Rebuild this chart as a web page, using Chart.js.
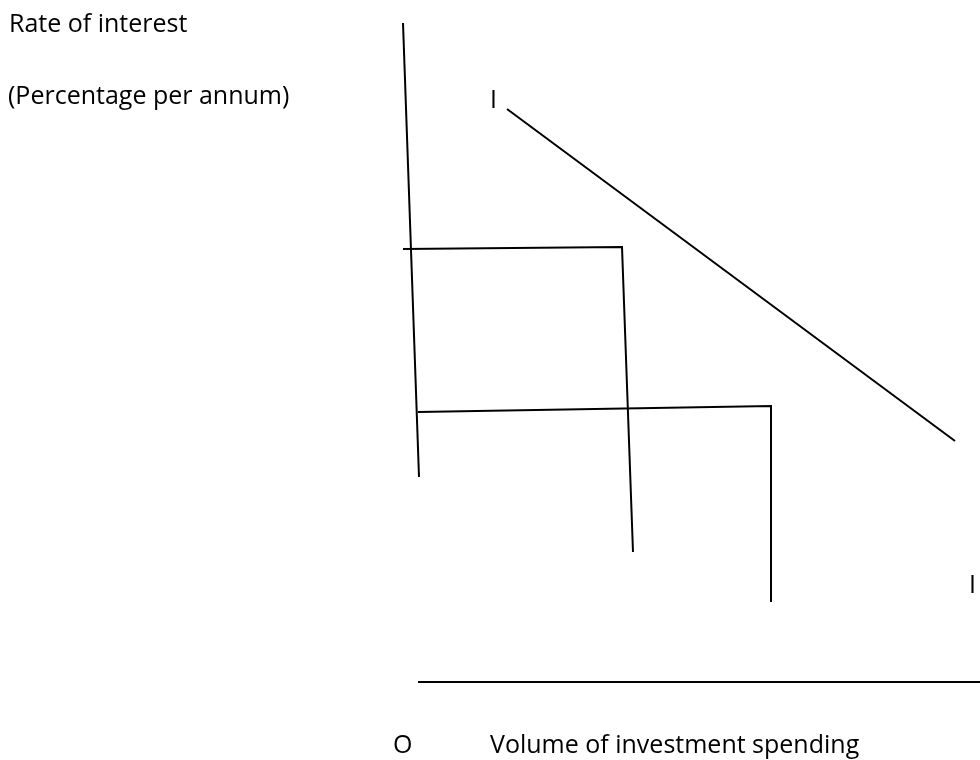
<!DOCTYPE html>
<html>
<head>
<meta charset="utf-8">
<script src="https://cdn.jsdelivr.net/npm/chart.js@4"></script>
<style>
  html, body { margin: 0; padding: 0; background: #fff; }
  #wrap { width: 980px; height: 760px; }
</style>
</head>
<body>
<div id="wrap"><canvas id="investChart"></canvas></div>
<script>
// diagram units: x runs 0..980 left to right, y runs 0..760 top to bottom
const verticalAxis = [{ x: 403, y: 23 }, { x: 419, y: 477 }];
const investmentCurve = [{ x: 507, y: 109 }, { x: 955, y: 441 }];
const highRateStep = [{ x: 403, y: 249 }, { x: 622, y: 247 }, { x: 633, y: 552 }];
const lowRateStep = [{ x: 418, y: 412 }, { x: 771, y: 406 }, { x: 771, y: 602 }];
const horizontalAxis = [{ x: 418, y: 682 }, { x: 980, y: 682 }];

const labelTexts = ["Rate of interest", "(Percentage per annum)", "I", "I", "O", "Volume of investment spending"];
const labelX = [9, 8, 490, 969, 393, 490];
const labelY = [32, 104, 108, 593, 753, 753];

const ctx = document.getElementById("investChart").getContext("2d");

const labelPlugin = {
  id: "labels",
  afterDraw: chart => {
    const c = chart.ctx;
    const xs = chart.scales.x, ys = chart.scales.y;
    c.save();
    c.fillStyle = "#000";
    c.font = "25px 'Open Sans', sans-serif";
    c.textBaseline = "alphabetic";
    c.textAlign = "left";
    labelTexts.forEach((t, i) => {
      c.fillText(t, xs.getPixelForValue(labelX[i]), ys.getPixelForValue(labelY[i]));
    });
    c.restore();
  }
};

function seg(data) {
  return {
    data: data,
    showLine: true,
    borderColor: "#000",
    borderWidth: 2,
    pointRadius: 0,
    fill: false,
    tension: 0
  };
}

const chart = new Chart(ctx, {
  type: "scatter",
  data: {
    datasets: [
      seg(verticalAxis),
      seg(investmentCurve),
      seg(highRateStep),
      seg(lowRateStep),
      seg(horizontalAxis)
    ]
  },
  options: {
    responsive: true,
    maintainAspectRatio: false,
    animation: false,
    layout: { padding: 0 },
    scales: {
      x: { type: "linear", min: 0, max: 980, display: false },
      y: { type: "linear", min: 0, max: 760, reverse: true, display: false }
    },
    plugins: {
      legend: { display: false },
      tooltip: { enabled: false }
    }
  },
  plugins: [labelPlugin]
});
</script>
</body>
</html>
